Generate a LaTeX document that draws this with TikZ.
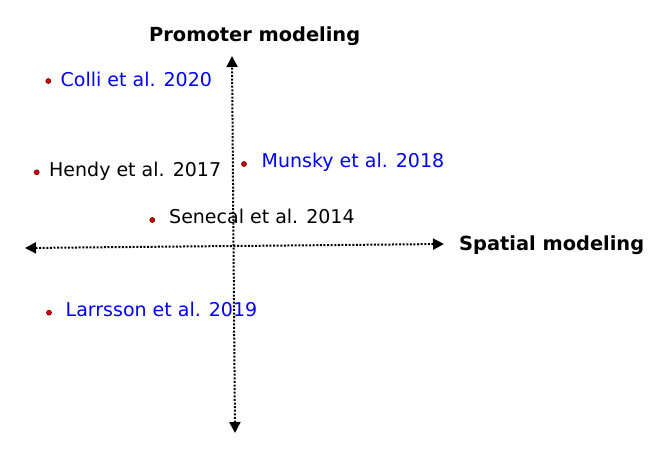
\documentclass[tikz,border=0pt]{standalone}
\usepackage{fontspec}
\setmainfont{DejaVu Sans}
\usetikzlibrary{arrows.meta}
\definecolor{dotred}{RGB}{220,0,0}
\definecolor{dotedge}{RGB}{90,0,0}
\begin{document}
\begin{tikzpicture}[x=1pt,y=-1pt,
  axis/.style={line width=2pt, dash pattern=on 2pt off 1.6pt, {Triangle[length=11pt,width=11pt]}-{Triangle[length=11pt,width=11pt]}},
  pt/.style={circle, inner sep=0pt, minimum size=5pt, fill=dotred, draw=dotedge, line width=0.6pt},
  lbl/.style={anchor=base west, inner sep=0pt, font=\fontsize{19}{22}\selectfont},
  ttl/.style={anchor=base west, inner sep=0pt, font=\fontsize{19.4}{22}\selectfont\bfseries}]
\useasboundingbox (0,0) rectangle (669,472);
\fill[white] (0,0) rectangle (669,472);
\coordinate (vtop) at (232,56);
\coordinate (vbot) at (235,433);
\coordinate (hl) at (25,248);
\coordinate (hr) at (444,244);
\draw[axis] (vbot) -- (vtop);
\draw[axis] (hl) -- (hr);
\node[ttl] (tp) at (149,41) {Promoter modeling};
\node[ttl] (ts) at (459,250) {Spatial modeling};
\node[pt] (d1) at (48.3,81) {};
\node[lbl, text=blue] (l1) at (60.5,86) {Colli et al. 2020};
\node[pt] (d2) at (36.7,172.3) {};
\node[lbl] (l2) at (49,176.7) {Hendy et al. 2017};
\node[pt] (d3) at (244,164) {};
\node[lbl, text=blue] (l3) at (261.5,167.3) {Munsky et al. 2018};
\node[pt] (d4) at (152.3,220) {};
\node[lbl] (l4) at (169,223.3) {Senecal et al. 2014};
\node[pt] (d5) at (49,312.7) {};
\node[lbl, text=blue] (l5) at (65.5,316) {Larrsson et al. 2019};
\end{tikzpicture}
\end{document}
